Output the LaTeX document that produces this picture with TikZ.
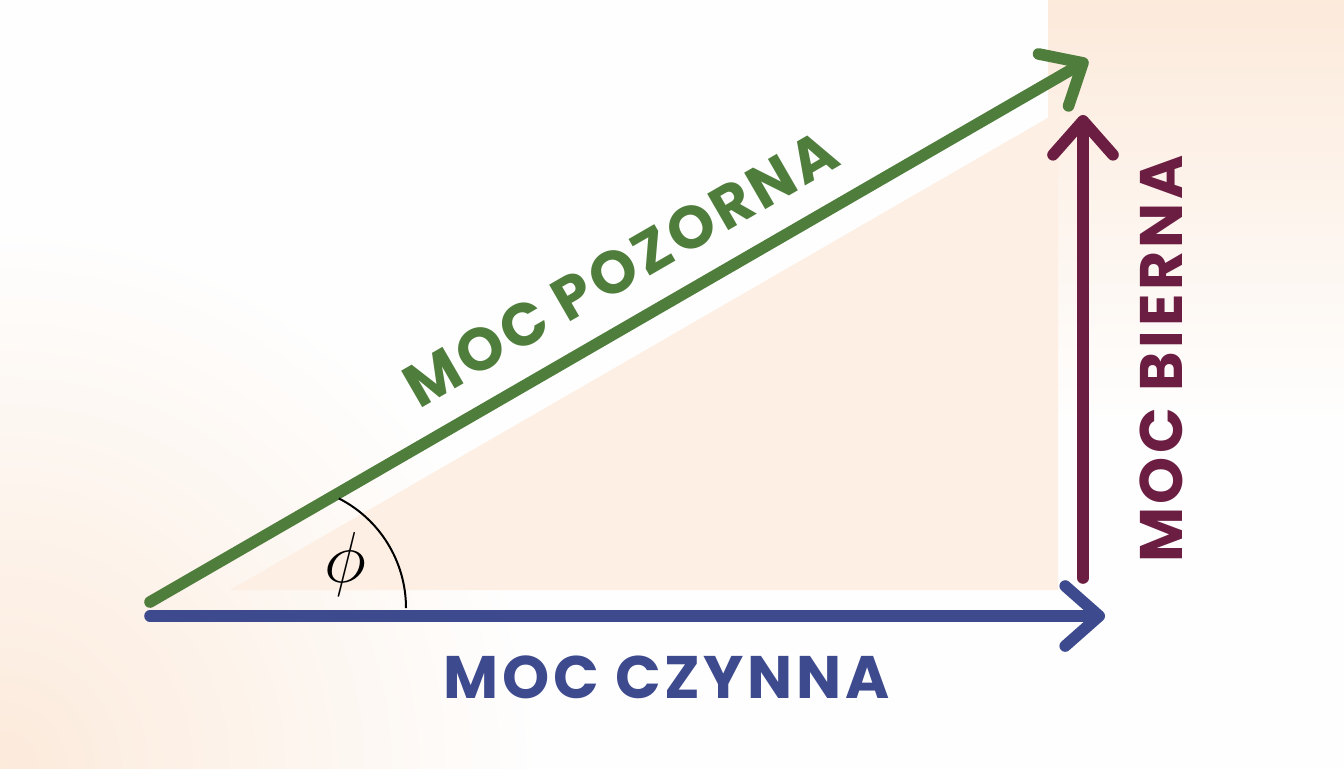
\documentclass[tikz,border=0pt]{standalone}
\usepackage{fontspec}
\setmainfont{Poppins}[LetterSpace=6]
\usetikzlibrary{arrows.meta}
\definecolor{peach}{HTML}{FCEADB}
\definecolor{trifill}{HTML}{FDEFE3}
\definecolor{bgwhite}{HTML}{FEFEFE}
\definecolor{cgreen}{HTML}{4F7D3B}
\definecolor{cblue}{HTML}{3E4A8E}
\definecolor{cpurple}{HTML}{6B1D42}
\tikzset{
  vec/.style={line width=5.8pt, line cap=round,
    -{Straight Barb[length=17pt, width=30pt, round]}},
  lbl/.style={inner sep=0pt, font=\fontsize{30}{34}\selectfont\bfseries},
}
\begin{document}
\begin{tikzpicture}[x=0.5pt, y=-0.5pt]
\useasboundingbox (0,0) rectangle (1344,768);
% background
\fill[bgwhite] (0,0) rectangle (1344,768);
\begin{scope}
\clip (0,0) rectangle (1344,768);
\shade[inner color=peach, outer color=bgwhite] (0,768) circle[radius=540];
\shade[top color=peach, bottom color=bgwhite] (1048,0) rectangle (1344,420);
\end{scope}
% triangle
\fill[trifill] (230,590) -- (1058,590) -- (1058,112) -- cycle;
% coordinates
\coordinate (O) at (150,602);
\coordinate (G) at (1088,60);
\coordinate (B0) at (150,616);
\coordinate (B1) at (1105,616);
\coordinate (P0) at (1083,578);
\coordinate (P1) at (1083,115);
% vectors
\draw[vec, cgreen] (O) -- node[lbl, sloped, pos=0.53, above=13pt] (lp) {MOC POZORNA} (G);
\draw[vec, cblue] (B0) -- node[lbl, pos=0.541, below=17pt] (lc) {MOC CZYNNA} (B1);
\draw[vec, cpurple] (P0) -- node[lbl, sloped, pos=0.473, below=25.5pt] (lb) {MOC BIERNA} (P1);
% angle
\draw[line width=1pt, black] (406,608) arc[start angle=0, end angle=-63, radius=123];
\node[inner sep=0pt, scale=1.45, font=\Huge] (phi) at (345,564) {$\phi$};
\end{tikzpicture}
\end{document}
